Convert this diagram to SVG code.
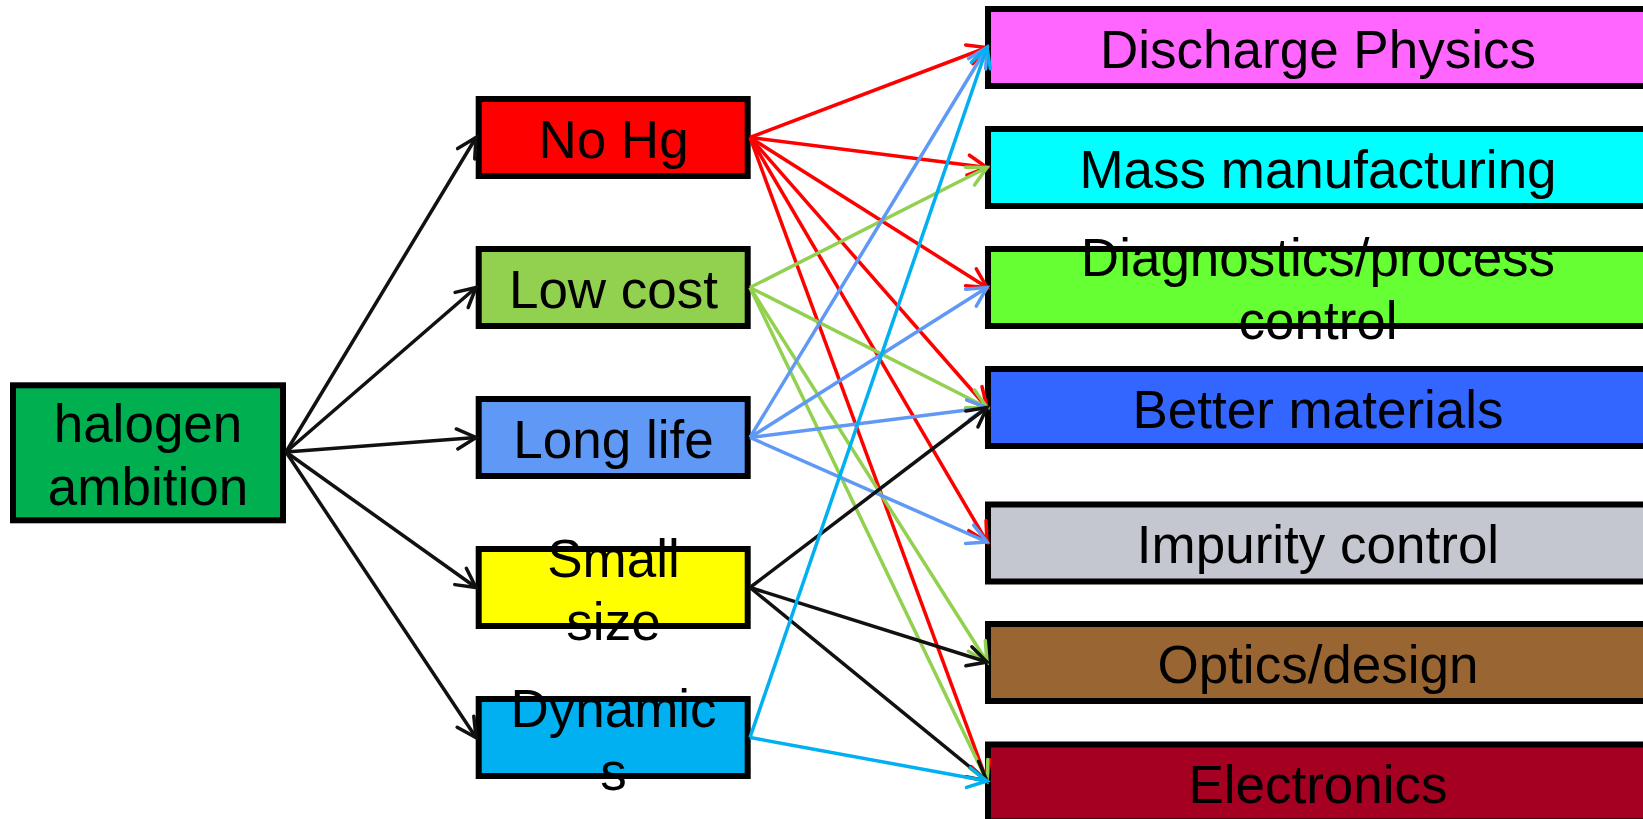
<svg xmlns="http://www.w3.org/2000/svg" width="1643" height="819" viewBox="0 0 1643 819">
<style>
  .box { stroke: #000; stroke-width: 6; }
  .lbl { font-family: "Liberation Sans", Arial, sans-serif; font-size: 53px; fill: #000; text-anchor: middle; }
  .c { fill: none; stroke-width: 3.5; }
  .k { stroke: #111; }
  .r { stroke: #FF0000; }
  .g { stroke: #92D050; }
  .b { stroke: #5F99F5; }
  .cy { stroke: #00B0F0; }
  .ah { fill: none; stroke-width: 3.5; stroke-linecap: round; }
</style>
<defs>
  <marker id="ak" markerUnits="userSpaceOnUse" orient="auto" refX="0" refY="0" markerWidth="24" markerHeight="24" overflow="visible"><path class="ah" d="M-19,-10 L0,0 L-19,10" stroke="#111"/></marker>
  <marker id="ar" markerUnits="userSpaceOnUse" orient="auto" refX="0" refY="0" markerWidth="24" markerHeight="24" overflow="visible"><path class="ah" d="M-19,-10 L0,0 L-19,10" stroke="#FF0000"/></marker>
  <marker id="ag" markerUnits="userSpaceOnUse" orient="auto" refX="0" refY="0" markerWidth="24" markerHeight="24" overflow="visible"><path class="ah" d="M-19,-10 L0,0 L-19,10" stroke="#92D050"/></marker>
  <marker id="ab" markerUnits="userSpaceOnUse" orient="auto" refX="0" refY="0" markerWidth="24" markerHeight="24" overflow="visible"><path class="ah" d="M-19,-10 L0,0 L-19,10" stroke="#5F99F5"/></marker>
  <marker id="ac" markerUnits="userSpaceOnUse" orient="auto" refX="0" refY="0" markerWidth="24" markerHeight="24" overflow="visible"><path class="ah" d="M-19,-10 L0,0 L-19,10" stroke="#00B0F0"/></marker>
</defs>
<rect width="1643" height="819" fill="#fff"/>

<g id="halogen">
  <rect class="box" x="13" y="385.3" width="270" height="135" fill="#00AF50"/>
  <text class="lbl" x="148" y="441.5">halogen</text>
  <text class="lbl" x="148" y="504.5">ambition</text>
</g>

<g id="no-hg">
  <rect class="box" x="478.7" y="99" width="269" height="77" fill="#FF0000"/>
  <text class="lbl" x="613.5" y="158">No Hg</text>
</g>
<g id="low-cost">
  <rect class="box" x="478.7" y="249" width="269" height="77" fill="#92D050"/>
  <text class="lbl" x="613.5" y="308">Low cost</text>
</g>
<g id="long-life">
  <rect class="box" x="478.7" y="399" width="269" height="77" fill="#5F99F5"/>
  <text class="lbl" x="613.5" y="458">Long life</text>
</g>
<g id="small-size">
  <rect class="box" x="478.7" y="549" width="269" height="77" fill="#FFFF00"/>
  <text class="lbl" x="613.5" y="577">Small</text>
  <text class="lbl" x="613.5" y="640">size</text>
</g>
<g id="dynamics">
  <rect class="box" x="478.7" y="699" width="269" height="77" fill="#00B0F0"/>
  <text class="lbl" x="613.5" y="727">Dynamic</text>
  <text class="lbl" x="613.5" y="790">s</text>
</g>

<g id="discharge-physics">
  <rect class="box" x="988" y="9" width="670" height="77" fill="#FF66FF"/>
  <text class="lbl" x="1318" y="67.5">Discharge Physics</text>
</g>
<g id="mass-manufacturing">
  <rect class="box" x="988" y="129" width="670" height="77" fill="#00FFFF"/>
  <text class="lbl" x="1318" y="187.5">Mass manufacturing</text>
</g>
<g id="diagnostics">
  <rect class="box" x="988" y="249" width="670" height="77" fill="#66FF33"/>
  <text class="lbl" x="1318" y="276">Diagnostics/process</text>
  <text class="lbl" x="1318" y="339">control</text>
</g>
<g id="better-materials">
  <rect class="box" x="988" y="369" width="670" height="77" fill="#3366FF"/>
  <text class="lbl" x="1318" y="427.5">Better materials</text>
</g>
<g id="impurity-control">
  <rect class="box" x="988" y="504.5" width="670" height="77" fill="#C5C7D0"/>
  <text class="lbl" x="1318" y="563">Impurity control</text>
</g>
<g id="optics-design">
  <rect class="box" x="988" y="624" width="670" height="77" fill="#996633"/>
  <text class="lbl" x="1318" y="682.5">Optics/design</text>
</g>
<g id="electronics">
  <rect class="box" x="988" y="744.5" width="670" height="77" fill="#A50021"/>
  <text class="lbl" x="1318" y="803">Electronics</text>
</g>

<g id="connectors">
  <line class="c k" x1="286" y1="452" x2="476" y2="137.5" marker-end="url(#ak)"/>
  <line class="c k" x1="286" y1="452" x2="476" y2="287.5" marker-end="url(#ak)"/>
  <line class="c k" x1="286" y1="452" x2="476" y2="437.5" marker-end="url(#ak)"/>
  <line class="c k" x1="286" y1="452" x2="476" y2="587.5" marker-end="url(#ak)"/>
  <line class="c k" x1="286" y1="452" x2="476" y2="737.5" marker-end="url(#ak)"/>

  <line class="c r" x1="750" y1="137.5" x2="987" y2="47.5" marker-end="url(#ar)"/>
  <line class="c r" x1="750" y1="137.5" x2="987" y2="167.5" marker-end="url(#ar)"/>
  <line class="c r" x1="750" y1="137.5" x2="987" y2="287.5" marker-end="url(#ar)"/>
  <line class="c r" x1="750" y1="137.5" x2="987" y2="407.5" marker-end="url(#ar)"/>
  <line class="c r" x1="750" y1="137.5" x2="987" y2="542" marker-end="url(#ar)"/>
  <line class="c r" x1="750" y1="137.5" x2="987" y2="781" marker-end="url(#ar)"/>

  <line class="c g" x1="750" y1="287.5" x2="987" y2="167.5" marker-end="url(#ag)"/>
  <line class="c g" x1="750" y1="287.5" x2="987" y2="407.5" marker-end="url(#ag)"/>
  <line class="c g" x1="750" y1="287.5" x2="987" y2="662" marker-end="url(#ag)"/>
  <line class="c g" x1="750" y1="287.5" x2="987" y2="781" marker-end="url(#ag)"/>

  <line class="c b" x1="750" y1="437.5" x2="987" y2="47.5" marker-end="url(#ab)"/>
  <line class="c b" x1="750" y1="437.5" x2="987" y2="287.5" marker-end="url(#ab)"/>
  <line class="c b" x1="750" y1="437.5" x2="987" y2="407.5" marker-end="url(#ab)"/>
  <line class="c b" x1="750" y1="437.5" x2="987" y2="542" marker-end="url(#ab)"/>

  <line class="c k" x1="750" y1="587.5" x2="987" y2="407.5" marker-end="url(#ak)"/>
  <line class="c k" x1="750" y1="587.5" x2="987" y2="662" marker-end="url(#ak)"/>
  <line class="c k" x1="750" y1="587.5" x2="987" y2="781" marker-end="url(#ak)"/>

  <line class="c cy" x1="750" y1="737.5" x2="987" y2="47.5" marker-end="url(#ac)"/>
  <line class="c cy" x1="750" y1="737.5" x2="987" y2="781" marker-end="url(#ac)"/>
</g>
</svg>
